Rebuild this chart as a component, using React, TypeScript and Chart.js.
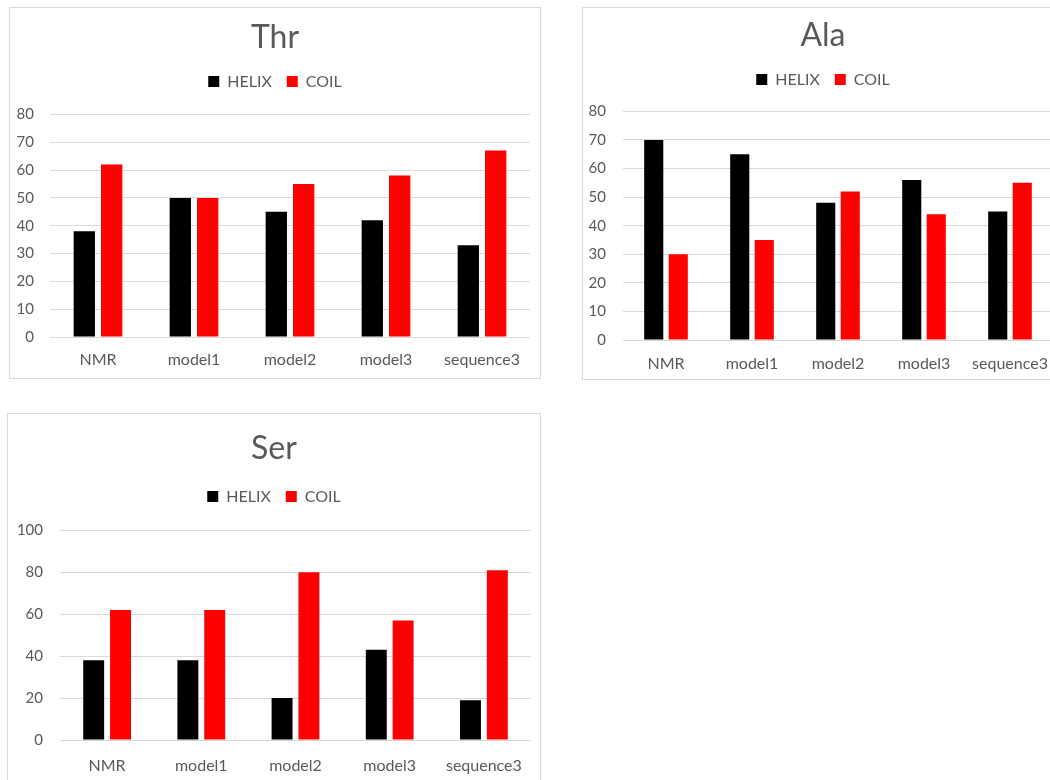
import React, { useEffect, useRef } from "react";
import { Chart, registerables } from "chart.js";

Chart.register(...registerables);

const categories = ["NMR", "model1", "model2", "model3", "sequence3"];
const seriesNames = ["HELIX", "COIL"];

const thrHelix = [38, 50, 45, 42, 33];
const thrCoil = [62, 50, 55, 58, 67];

const alaHelix = [70, 65, 48, 56, 45];
const alaCoil = [30, 35, 52, 44, 55];

const serHelix = [38, 38, 20, 43, 19];
const serCoil = [62, 62, 80, 57, 81];

const thrTicks = { max: 80, step: 10 };
const alaTicks = { max: 80, step: 10 };
const serTicks = { max: 100, step: 20 };

const FONT = "Lato, 'Open Sans', sans-serif";
const TEXT = "#595959";
const GRID = "#d9d9d9";
const HELIX_COLOR = "#000000";
const COIL_COLOR = "#ff0000";

type Layout = {
  left: number;
  top: number;
  width: number;
  height: number;
  rightMargin: number;
  titlePad: { top: number; bottom: number };
  legendGap: number;
  xPad: number;
  yPad: number;
  yAxisWidth: number;
  xAxisHeight: number;
};

type PanelProps = {
  title: string;
  helix: number[];
  coil: number[];
  ticks: { max: number; step: number };
  layout: Layout;
};

// Adds extra room under the legend before the plot area starts.
const legendGapPlugin = (extra: number) => ({
  id: "legendGap",
  beforeUpdate(chart: any) {
    const lg = chart.legend;
    if (lg && !lg.__gapPatched) {
      const orig = lg.fit;
      lg.fit = function () {
        orig.call(this);
        this.height += extra;
      };
      lg.__gapPatched = true;
    }
  },
});

function BarPanel({ title, helix, coil, ticks, layout }: PanelProps) {
  const ref = useRef<HTMLCanvasElement | null>(null);

  useEffect(() => {
    if (!ref.current) return;
    const chart = new Chart(ref.current, {
      type: "bar",
      data: {
        labels: categories,
        datasets: [
          {
            label: seriesNames[0],
            data: helix,
            backgroundColor: HELIX_COLOR,
            categoryPercentage: 0.57,
            barPercentage: 0.78,
            yAxisID: "y",
          },
          {
            label: seriesNames[1],
            data: coil,
            backgroundColor: COIL_COLOR,
            categoryPercentage: 0.57,
            barPercentage: 0.78,
            yAxisID: "y",
          },
        ],
      },
      options: {
        animation: false,
        responsive: false,
        maintainAspectRatio: false,
        layout: { padding: 0 },
        plugins: {
          title: {
            display: true,
            text: title,
            color: TEXT,
            font: { family: FONT, size: 32, weight: "normal" },
            padding: layout.titlePad,
          },
          legend: {
            display: true,
            position: "top",
            labels: {
              color: TEXT,
              font: { family: FONT, size: 16 },
              boxWidth: 11,
              boxHeight: 11,
              padding: 15,
            },
          },
          tooltip: { enabled: false },
        },
        scales: {
          x: {
            grid: { display: false, drawTicks: false },
            border: { display: false },
            ticks: {
              color: TEXT,
              font: { family: FONT, size: 16 },
              padding: layout.xPad,
              maxRotation: 0,
            },
            afterFit(scale: any) {
              scale.height = layout.xAxisHeight;
            },
          },
          y: {
            position: "left",
            min: 0,
            max: ticks.max,
            grid: { color: GRID, lineWidth: 1, drawTicks: false },
            border: { display: false },
            ticks: {
              stepSize: ticks.step,
              color: TEXT,
              font: { family: FONT, size: 15 },
              padding: layout.yPad,
            },
            afterFit(scale: any) {
              scale.width = layout.yAxisWidth;
            },
          },
          // Empty right-hand axis that only reserves the right margin of the plot.
          yRight: {
            position: "right",
            display: true,
            grid: { display: false, drawTicks: false },
            border: { display: false },
            ticks: { display: false },
            afterFit(scale: any) {
              scale.width = layout.rightMargin;
            },
          },
        },
      },
      plugins: [legendGapPlugin(layout.legendGap)],
    });
    return () => chart.destroy();
  }, [title, helix, coil, ticks, layout]);

  return (
    <div
      style={{
        position: "absolute",
        left: layout.left,
        top: layout.top,
        width: layout.width,
        height: layout.height,
        border: `1px solid ${GRID}`,
        boxSizing: "border-box",
        background: "#fff",
      }}
    >
      <canvas
        ref={ref}
        width={layout.width - 2}
        height={layout.height - 2}
        style={{ display: "block", width: layout.width - 2, height: layout.height - 2 }}
      />
    </div>
  );
}

const thrLayout: Layout = {
  left: 9,
  top: 7,
  width: 532,
  height: 372,
  rightMargin: 10,
  titlePad: { top: 10, bottom: 2 },
  legendGap: 15,
  xPad: 13,
  yPad: 16,
  yAxisWidth: 40,
  xAxisHeight: 41,
};

const alaLayout: Layout = {
  left: 582,
  top: 7,
  width: 482,
  height: 373,
  rightMargin: 10,
  titlePad: { top: 8, bottom: 2 },
  legendGap: 14,
  xPad: 14,
  yPad: 17,
  yAxisWidth: 40,
  xAxisHeight: 39,
};

const serLayout: Layout = {
  left: 7,
  top: 413,
  width: 534,
  height: 387,
  rightMargin: 9,
  titlePad: { top: 15, bottom: 6 },
  legendGap: 16,
  xPad: 16,
  yPad: 17,
  yAxisWidth: 52,
  xAxisHeight: 59,
};

export default function App() {
  return (
    <div
      style={{
        position: "fixed",
        left: 0,
        top: 0,
        width: 1050,
        height: 780,
        overflow: "hidden",
        background: "#fff",
      }}
    >
      <BarPanel title="Thr" helix={thrHelix} coil={thrCoil} ticks={thrTicks} layout={thrLayout} />
      <BarPanel title="Ala" helix={alaHelix} coil={alaCoil} ticks={alaTicks} layout={alaLayout} />
      <BarPanel title="Ser" helix={serHelix} coil={serCoil} ticks={serTicks} layout={serLayout} />
    </div>
  );
}
